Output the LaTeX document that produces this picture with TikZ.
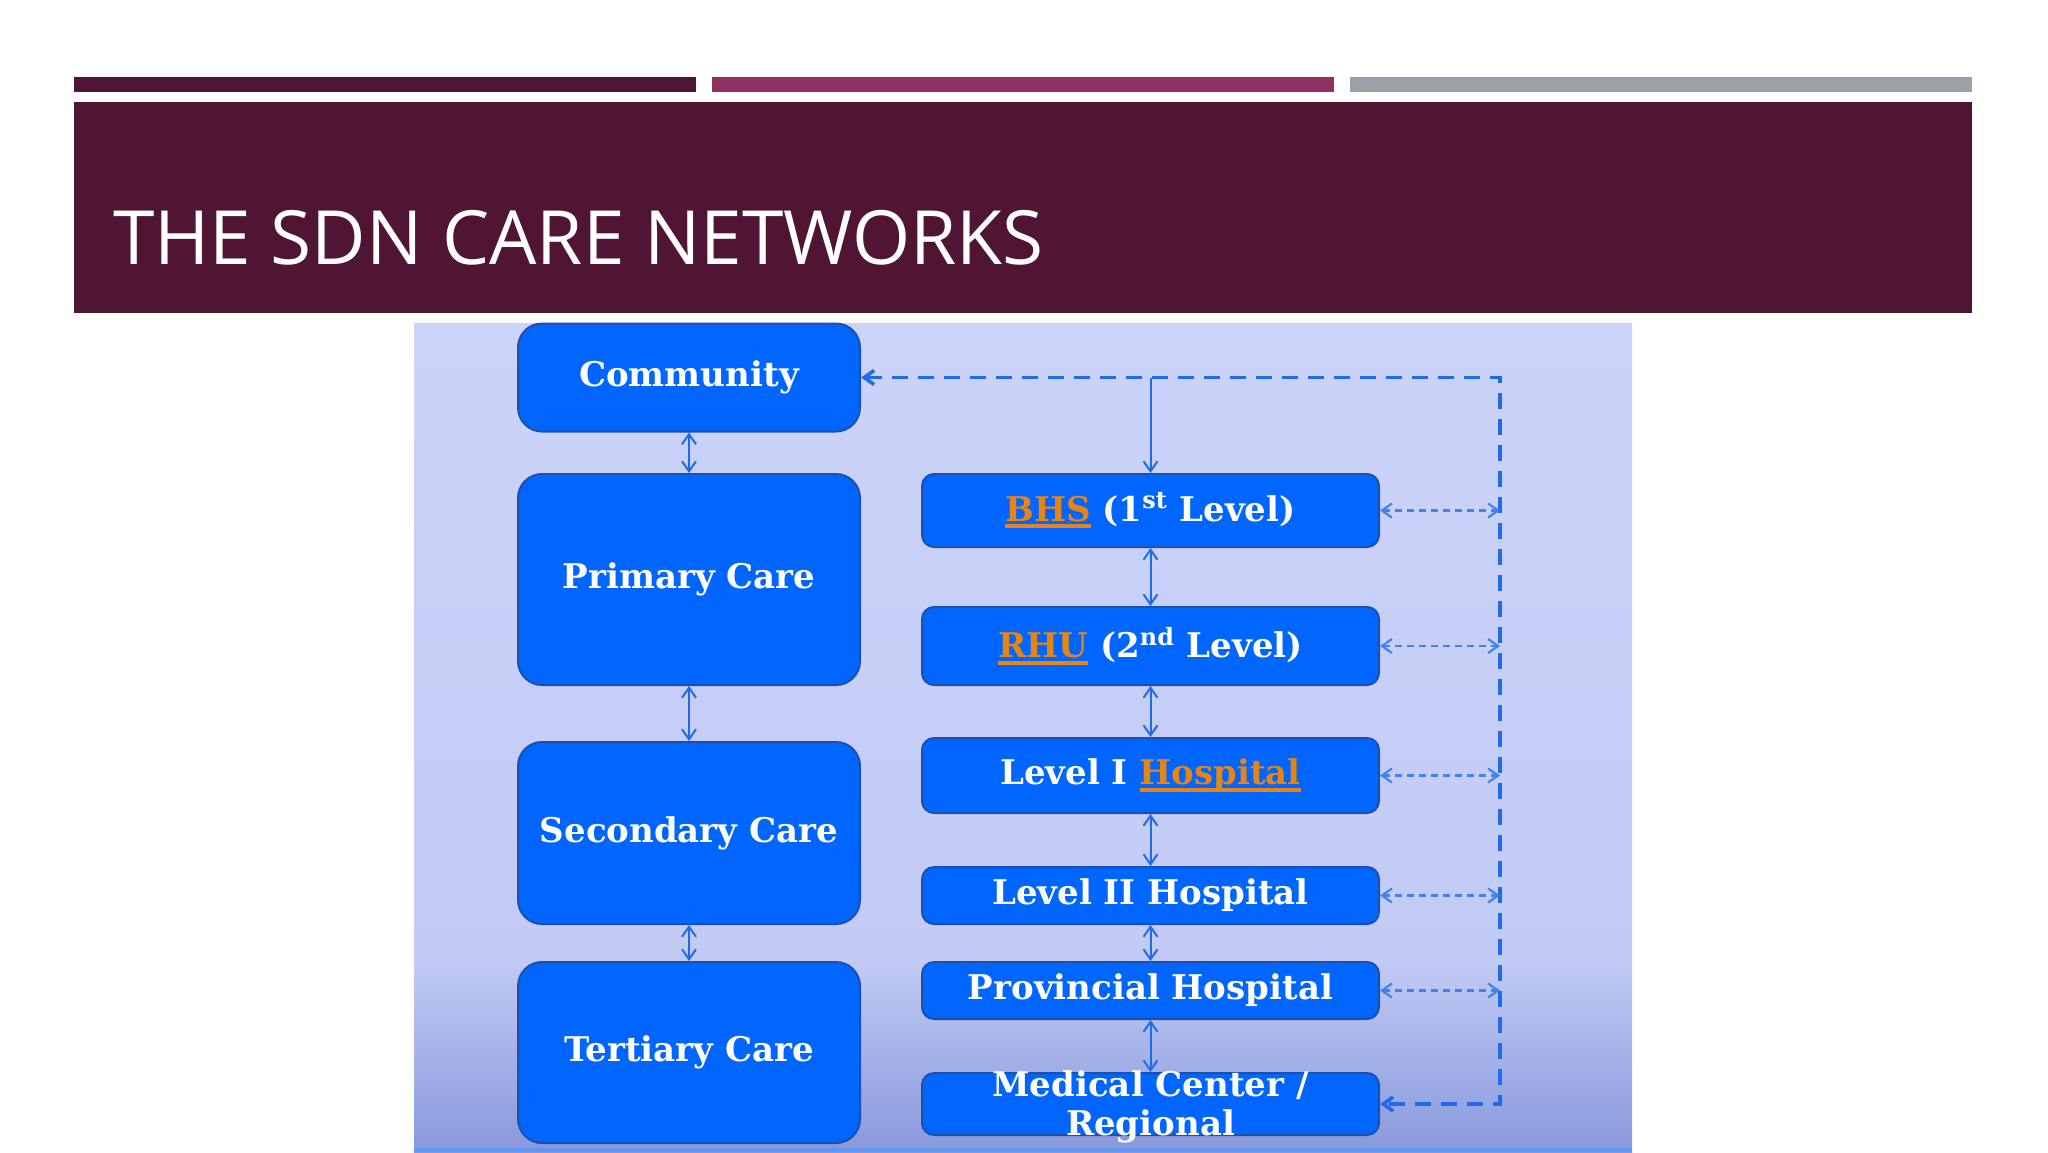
\documentclass[tikz,border=0pt]{standalone}
\usepackage{fontspec}
\setmainfont{DejaVu Serif}
\newfontfamily\titlefont{Open Sans}
\usetikzlibrary{calc,arrows.meta}
\definecolor{plum}{RGB}{80,21,52}
\definecolor{rose}{RGB}{142,48,98}
\definecolor{slate}{RGB}{152,162,168}
\definecolor{boxblue}{RGB}{0,102,255}
\definecolor{boxedge}{RGB}{28,80,170}
\definecolor{linkblue}{RGB}{30,108,235}
\definecolor{linkorange}{RGB}{230,132,20}
\definecolor{skytop}{RGB}{204,211,250}
\definecolor{skymid}{RGB}{194,203,245}
\definecolor{skylow}{RGB}{136,152,220}
\newcommand{\hl}[1]{\textcolor{linkorange}{\setbox0\hbox{#1}\rlap{\rule[-0.2em]{\wd0}{0.12em}}\box0}}
\tikzstyle{care} = [draw=boxedge, fill=boxblue, line width=1pt, rounded corners=12pt, text=white, font=\bfseries\fontsize{17}{19.5}\selectfont, minimum width=171pt, align=center, inner sep=0pt]
\tikzstyle{level} = [care, rounded corners=6pt, minimum width=228.5pt]
\tikzstyle{link} = [draw=linkblue, line width=1pt]
\tikzstyle{route} = [draw=linkblue, line width=1.8pt, dash pattern=on 8pt off 5pt]
\tikzstyle{refer} = [draw=linkblue!85, line width=1.1pt, dash pattern=on 3.5pt off 2.5pt]
\begin{document}
\begin{tikzpicture}[ x=0.5pt, y=-0.5pt, >={Straight Barb[length=5pt,width=7pt]} ]
\useasboundingbox (0,0) rectangle (2048,1152);
\fill[white] (0,0) rectangle (2048,1152);

% header
\fill[plum]  (74,77)   rectangle (696,92);
\fill[rose]  (712,77)  rectangle (1334,92);
\fill[slate] (1350,77) rectangle (1972,92);
\fill[plum]  (74,102)  rectangle (1972,313);
\node (title) [anchor=base west, text=white, inner sep=0pt, font=\titlefont\fontsize{37.4}{40}\selectfont] at (113,264) {THE SDN CARE NETWORKS};

% backdrop
\shade[top color=skytop, bottom color=skymid] (414,323) rectangle (1632,960);
\shade[top color=skymid, bottom color=skylow] (414,960) rectangle (1632,1152);
\fill[linkblue!70] (414,1148) rectangle (1632,1152);

% care levels
\node (com) [care, minimum height=54pt]    at (689,377.5) {Community};
\node (pri) [care, minimum height=105.5pt] at (689,579.5) {Primary Care};
\node (sec) [care, minimum height=91pt]    at (689,833)   {Secondary Care};
\node (ter) [care, minimum height=90.5pt]  at (689,1052.5) {Tertiary Care};

% facilities
\node (bhs) [level, minimum height=36.5pt] at (1150.5,510.5) {\hl{BHS} (1\textsuperscript{st} Level)};
\node (rhu) [level, minimum height=39pt]   at (1150.5,646)   {\hl{RHU} (2\textsuperscript{nd} Level)};
\node (lv1) [level, minimum height=37.5pt] at (1150.5,775.5) {Level I \hl{Hospital}};
\node (lv2) [level, minimum height=28.5pt] at (1150.5,895.5) {Level II Hospital};
\node (pro) [level, minimum height=28.5pt] at (1150.5,990.5) {Provincial Hospital};
\node (med) [level, minimum height=31pt, label={[text=white, font=\bfseries\fontsize{17}{19.5}\selectfont, align=center, yshift=-1.5pt]center:Medical Center /\\Regional}] at (1150.5,1104) {};

% edges
\draw[link,<->] (com) -- (pri);
\draw[link,<->] (pri) -- (sec);
\draw[link,<->] (sec) -- (ter);
\draw[link,<->] (bhs) -- (rhu);
\draw[link,<->] (rhu) -- (lv1);
\draw[link,<->] (lv1) -- (lv2);
\draw[link,<->] (lv2) -- (pro);
\draw[link,<->] (pro) -- (med);
\draw[link,->] (bhs.north |- com.east) -- (bhs.north);

% referral loop
\coordinate (tr) at (1500,377.5);
\coordinate (br) at (1500,1104);
\draw[route,<->] (com.east) -- (tr) -- (br) -- (med.east);
\foreach \n in {bhs,rhu,lv1,lv2,pro}
  \draw[refer,<->] (\n.east) -- (\n.east -| tr);

\end{tikzpicture}
\end{document}
